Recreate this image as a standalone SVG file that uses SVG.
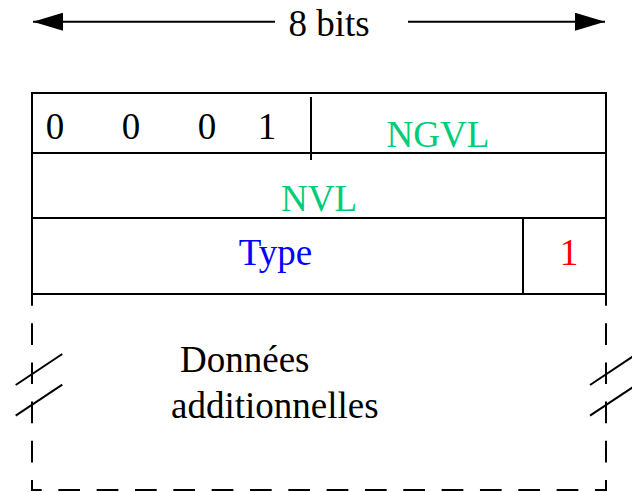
<svg xmlns="http://www.w3.org/2000/svg" width="632" height="492" viewBox="0 0 632 492">
<style>
text{font-family:"Liberation Serif","Times New Roman",serif;font-size:37px}
.ln{stroke:#000;stroke-width:2;fill:none}
.dv{stroke:#000;stroke-width:2;fill:none;stroke-dasharray:21.7 17.5;stroke-dashoffset:11.7}
.dh{stroke:#000;stroke-width:2;fill:none;stroke-dasharray:21.7 16.63;stroke-dashoffset:11}
.g{fill:#00cc7a}
</style>
<defs>
<marker id="ah" viewBox="0 0 30 18" refX="30" refY="9" markerWidth="30" markerHeight="18" markerUnits="userSpaceOnUse" orient="auto">
<path d="M0,0 L30,9 L0,18 Z" fill="#000"/>
</marker>
</defs>
<g id="width">
<line class="ln" x1="275" y1="21.7" x2="33" y2="21.7" marker-end="url(#ah)"/>
<line class="ln" x1="408" y1="21.7" x2="605" y2="21.7" marker-end="url(#ah)"/>
<text x="329" y="36" text-anchor="middle">8 bits</text>
</g>
<g id="frame">
<rect class="ln" x="32" y="93" width="574" height="201"/>
<line class="ln" x1="32" y1="153" x2="606" y2="153"/>
<line class="ln" x1="32" y1="218" x2="606" y2="218"/>
</g>
<g id="version">
<text x="55" y="138.5" text-anchor="middle">0</text>
<text x="131" y="138.5" text-anchor="middle">0</text>
<text x="207" y="138.5" text-anchor="middle">0</text>
<text x="267" y="138.5" text-anchor="middle">1</text>
</g>
<g id="ngvl">
<line class="ln" x1="311" y1="97" x2="311" y2="160"/>
<text class="g" x="438" y="146.5" text-anchor="middle">NGVL</text>
</g>
<g id="nvl">
<text class="g" x="319" y="210.5" text-anchor="middle">NVL</text>
</g>
<g id="type">
<text x="275.5" y="265" text-anchor="middle" fill="#0000ff">Type</text>
</g>
<g id="flag">
<line class="ln" x1="523" y1="218" x2="523" y2="294"/>
<text x="569" y="265" text-anchor="middle" fill="#ff0000">1</text>
</g>
<g id="data">
<path class="dv" d="M32,490 V294"/>
<path class="dv" d="M606,490 V294"/>
<path class="dh" d="M31,490 H607"/>
<line class="ln" x1="15.7" y1="385" x2="62.3" y2="354"/>
<line class="ln" x1="15.7" y1="415.7" x2="62.3" y2="384.7"/>
<line class="ln" x1="590" y1="385" x2="637" y2="353.7"/>
<line class="ln" x1="590" y1="415.7" x2="637" y2="384.4"/>
<text x="180" y="371.5">Données</text>
<text x="171" y="418">additionnelles</text>
</g>
</svg>
